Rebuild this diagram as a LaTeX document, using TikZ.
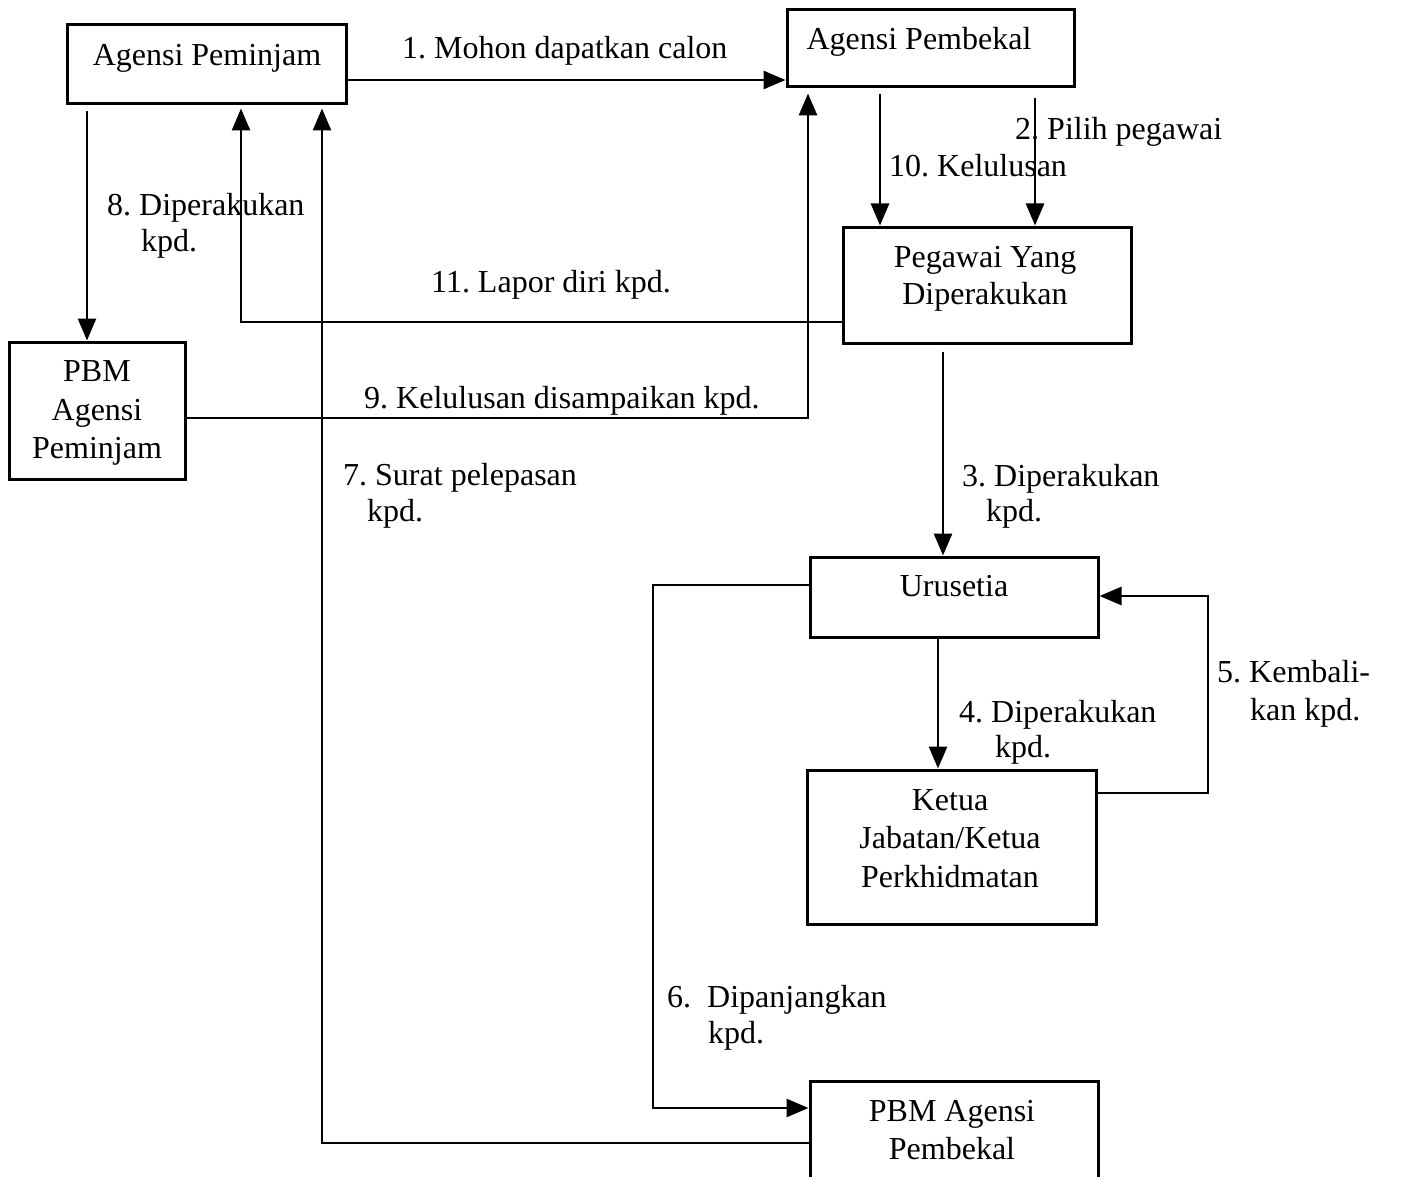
\documentclass[tikz,border=0pt]{standalone}
\usepackage{fontspec}
\setmainfont{Liberation Serif}
\usetikzlibrary{arrows.meta}
\frenchspacing
\begin{document}
\begin{tikzpicture}[x=1pt,y=-1pt,
  box/.style={draw, line width=3pt, inner sep=0pt},
  conn/.style={line width=2.8pt},
  arr/.style={conn, -{Triangle[length=22pt,width=18pt]}},
  txt/.style={inner sep=0pt, anchor=base, font=\fontsize{32}{38}\selectfont},
  lbl/.style={inner sep=0pt, anchor=base west, font=\fontsize{32}{38}\selectfont}]

\useasboundingbox (0,0) rectangle (1402,1177);
\fill[white] (0,0) rectangle (1402,1177);
\begin{scope}
\clip (0,0) rectangle (1402,1177);

% boxes
\node[box, minimum width=279pt, minimum height=79pt]  (ap)   at (206.5,64.5) {};
\node[box, minimum width=287pt, minimum height=77pt]  (apb)  at (930.5,48.5) {};
\node[box, minimum width=288pt, minimum height=116pt] (peg)  at (987,285) {};
\node[box, minimum width=176pt, minimum height=137pt] (pbm1) at (97,410.5) {};
\node[box, minimum width=288pt, minimum height=80pt]  (uru)  at (954,597) {};
\node[box, minimum width=289pt, minimum height=154pt] (ket)  at (951.5,847) {};
\node[box, minimum width=288pt, minimum height=120pt] (pbm2) at (954,1141) {};

% box texts
\node[txt] (ap-t)    at (207,66)   {Agensi Peminjam};
\node[txt] (apb-t)   at (919,50)   {Agensi Pembekal};
\node[txt] (peg-t1)  at (985,267)  {Pegawai Yang};
\node[txt] (peg-t2)  at (985,304)  {Diperakukan};
\node[txt] (pbm1-t1) at (97,381)   {PBM};
\node[txt] (pbm1-t2) at (97,420)   {Agensi};
\node[txt] (pbm1-t3) at (97,458)   {Peminjam};
\node[txt] (uru-t)   at (954,596)  {Urusetia};
\node[txt] (ket-t1)  at (950,810)  {Ketua};
\node[txt] (ket-t2)  at (950,848)  {Jabatan/Ketua};
\node[txt] (ket-t3)  at (950,887)  {Perkhidmatan};
\node[txt] (pbm2-t1) at (952,1121) {PBM Agensi};
\node[txt] (pbm2-t2) at (952,1159) {Pembekal};

% routing rows and columns
\coordinate (row1)  at (0,80);
\coordinate (col8)  at (87,0);
\coordinate (row11) at (0,322);
\coordinate (col11) at (241,0);
\coordinate (row7)  at (0,1143);
\coordinate (col7)  at (322,0);
\coordinate (row9)  at (0,418);
\coordinate (col9)  at (808,0);
\coordinate (col10) at (880,0);
\coordinate (col2)  at (1035,0);
\coordinate (col3)  at (943,0);
\coordinate (col4)  at (938,0);
\coordinate (row5a) at (0,793);
\coordinate (col5)  at (1208,0);
\coordinate (row5b) at (0,596);
\coordinate (row6a) at (0,585);
\coordinate (col6)  at (653,0);
\coordinate (row6b) at (0,1108);

% connectors
\draw[arr] (ap.east |- row1) -- (apb.west |- row1);
\draw[arr, shorten <=6pt] (ap.south -| col8) -- (pbm1.north -| col8);
\draw[arr, shorten >=3pt] (peg.west |- row11) -| (ap.south -| col11);
\draw[arr, shorten >=3pt] (pbm2.west |- row7) -| (ap.south -| col7);
\draw[arr, shorten >=5pt] (pbm1.east |- row9) -| (apb.south -| col9);
\draw[arr, shorten <=6pt] (apb.south -| col10) -- (peg.north -| col10);
\draw[arr, shorten <=10pt] (apb.south -| col2) -- (peg.north -| col2);
\draw[arr, shorten <=7pt] (peg.south -| col3) -- (uru.north -| col3);
\draw[arr] (uru.south -| col4) -- (ket.north -| col4);
\draw[arr] (ket.east |- row5a) -| (col5 |- row5b) -- (uru.east |- row5b);
\draw[arr] (uru.west |- row6a) -| (col6 |- row6b) -- (pbm2.west |- row6b);

% connector labels
\node[lbl] (l1)  at (402,59)   {1. Mohon dapatkan calon};
\node[lbl] (l2)  at (1015,140) {2. Pilih pegawai};
\node[lbl] (l10) at (889,177)  {10. Kelulusan};
\node[lbl] (l8a) at (107,215)  {8. Diperakukan};
\node[lbl] (l8b) at (141,251)  {kpd.};
\node[lbl] (l11) at (431,292)  {11. Lapor diri kpd.};
\node[lbl] (l9)  at (364,408)  {9. Kelulusan disampaikan kpd.};
\node[lbl] (l7a) at (343,485)  {7. Surat pelepasan};
\node[lbl] (l7b) at (367,521)  {kpd.};
\node[lbl] (l3a) at (962,486)  {3. Diperakukan};
\node[lbl] (l3b) at (986,521)  {kpd.};
\node[lbl] (l4a) at (959,722)  {4. Diperakukan};
\node[lbl] (l4b) at (995,757)  {kpd.};
\node[lbl] (l5a) at (1217,682) {5. Kembali-};
\node[lbl] (l5b) at (1250,720) {kan kpd.};
\node[lbl] (l6a) at (667,1007) {6.\ \ Dipanjangkan};
\node[lbl] (l6b) at (708,1043) {kpd.};
\end{scope}
\end{tikzpicture}
\end{document}
